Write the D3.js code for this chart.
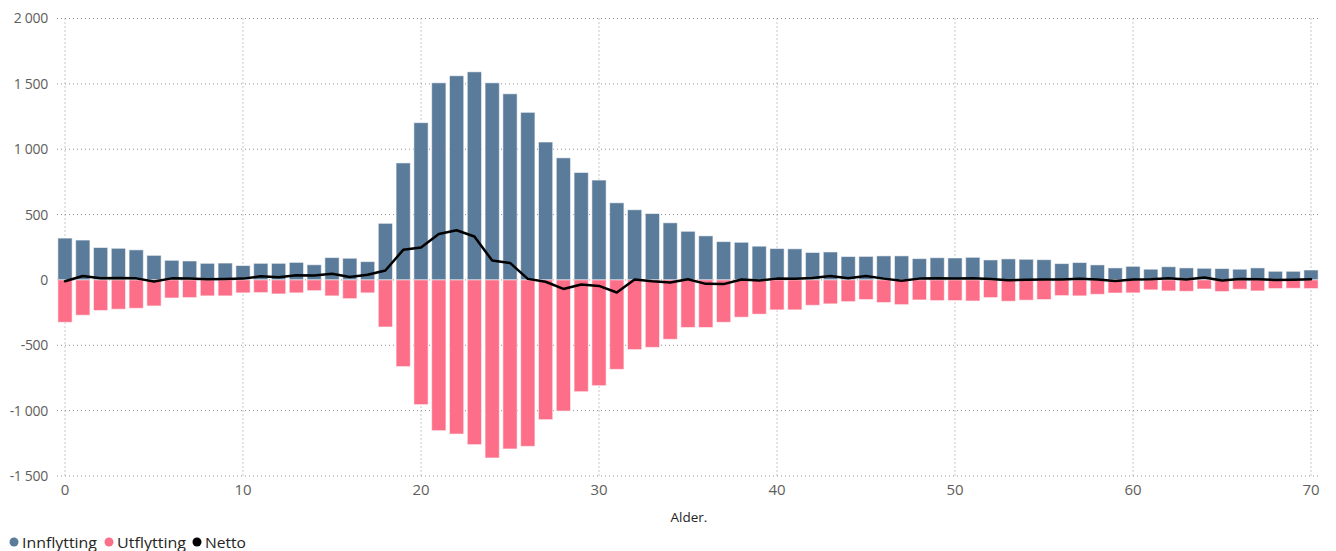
<!DOCTYPE html>
<html>
<head>
<meta charset="utf-8">
<script src="https://cdn.jsdelivr.net/npm/d3@7"></script>
<style>
  html, body { margin: 0; padding: 0; background: #fff; }
  svg { display: block; font-family: "Open Sans", "Noto Sans", sans-serif; }
</style>
</head>
<body>
<svg id="chart" width="1336" height="551"></svg>
<script>
const ages = d3.range(0, 71);
const innflytting = [320, 305, 248, 242, 230, 188, 150, 145, 127, 129, 110, 127, 127, 134, 116, 171, 166, 140, 433, 895,
  1203, 1508, 1562, 1592, 1508, 1424, 1282, 1055, 934, 822, 764, 590, 537, 508, 437, 372, 337, 293, 288, 258,
  240, 238, 210, 214, 179, 180, 184, 184, 163, 170, 168, 173, 153, 161, 158, 155, 125, 133, 115, 92,
  104, 82, 101, 92, 89, 87, 82, 92, 66, 66, 76];
const utflytting = [-324, -270, -234, -224, -217, -199, -138, -135, -122, -122, -99, -97, -107, -99, -82, -122, -143, -99, -360, -663,
  -954, -1153, -1179, -1260, -1362, -1293, -1273, -1069, -1003, -855, -809, -684, -533, -516, -454, -364, -364, -324, -285, -262,
  -229, -229, -194, -183, -166, -150, -173, -189, -153, -158, -158, -161, -135, -163, -155, -150, -120, -122, -110, -100,
  -99, -76, -84, -87, -69, -89, -71, -84, -66, -64, -66];
const netto = [-10, 30, 12, 15, 12, -12, 12, 10, 5, 7, 10, 28, 20, 35, 34, 48, 22, 40, 72, 230,
  248, 352, 380, 332, 148, 130, 8, -14, -69, -35, -46, -96, 4, -10, -20, 5, -30, -32, 3, -5,
  10, 9, 15, 30, 13, 30, 10, -6, 10, 12, 10, 12, 8, -3, 1, 3, 4, 9, 3, -8,
  3, 6, 13, 4, 18, -4, 8, 6, 0, 2, 6];
const yTicks = [-1500, -1000, -500, 0, 500, 1000, 1500, 2000];
const xTicks = [0, 10, 20, 30, 40, 50, 60, 70];
const seriesNames = ["Innflytting", "Utflytting", "Netto"];
const colors = ["#5B7B9A", "#FD6F88", "#000000"];

const svg = d3.select("#chart");
const x = d3.scaleBand().domain(ages).range([56.1, 1319.9]).paddingInner(0.2).paddingOuter(0.1);
const y = d3.scaleLinear().domain([-1500, 2000]).range([476, 18.5]);
const cx = a => x(a) + x.bandwidth() / 2;

const loc = d3.formatLocale({decimal: ",", thousands: "\u00a0", grouping: [3], currency: ["", ""], minus: "-"});
const fmt = loc.format(",d");

// Grid
const grid = svg.append("g");
grid.selectAll("line.h").data(yTicks).join("line")
  .attr("x1", 57).attr("x2", 1320)
  .attr("y1", d => y(d)).attr("y2", d => y(d))
  .attr("stroke", "#8f8f8f").attr("stroke-width", 1).attr("stroke-dasharray", "1,3");
grid.selectAll("line.v").data(xTicks).join("line")
  .attr("x1", d => cx(d)).attr("x2", d => cx(d))
  .attr("y1", y(2000)).attr("y2", y(-1500))
  .attr("stroke", "#8f8f8f").attr("stroke-width", 1).attr("stroke-dasharray", "1,3");

// Y axis labels
const yAxis = d3.axisLeft(y).tickValues(yTicks).tickFormat(fmt).tickSize(0).tickPadding(0);
svg.append("g").attr("transform", "translate(48,0)").call(yAxis)
  .call(g => g.select(".domain").remove())
  .call(g => g.selectAll("text").attr("fill", "#605E5C").attr("font-size", 14)
    .attr("font-family", "'Open Sans', 'Noto Sans', sans-serif").attr("letter-spacing", "-0.3px"));

// X axis labels
const xAxis = d3.axisBottom(x).tickValues(xTicks).tickSize(0).tickPadding(0);
svg.append("g").attr("transform", "translate(0,484)").call(xAxis)
  .call(g => g.select(".domain").remove())
  .call(g => g.selectAll("text").attr("fill", "#605E5C").attr("font-size", 15)
    .attr("font-family", "'Open Sans', 'Noto Sans', sans-serif"));

svg.append("text").attr("x", 689).attr("y", 522).attr("text-anchor", "middle")
  .attr("font-size", 13.5).attr("fill", "#252423").text("Alder.");

// Bars
svg.append("g").selectAll("rect").data(ages).join("rect")
  .attr("x", d => x(d)).attr("width", x.bandwidth())
  .attr("y", d => y(innflytting[d])).attr("height", d => y(0) - y(innflytting[d]))
  .attr("fill", colors[0]).attr("stroke", "rgba(255,255,255,0.55)").attr("stroke-width", 1);
svg.append("g").selectAll("rect").data(ages).join("rect")
  .attr("x", d => x(d)).attr("width", x.bandwidth())
  .attr("y", y(0)).attr("height", d => y(utflytting[d]) - y(0))
  .attr("fill", colors[1]).attr("stroke", "rgba(255,255,255,0.55)").attr("stroke-width", 1);

// Netto line
const line = d3.line().x(d => cx(d)).y(d => y(netto[d]));
svg.append("path").datum(ages).attr("d", line)
  .attr("fill", "none").attr("stroke", colors[2]).attr("stroke-width", 2.5)
  .attr("stroke-linejoin", "round").attr("stroke-linecap", "round");

// Legend
const legendX = [14, 109, 197];
const legendW = [75, 69, 41];
const lg = svg.append("g");
seriesNames.forEach((n, i) => {
  lg.append("circle").attr("cx", legendX[i]).attr("cy", 542).attr("r", 4.5).attr("fill", colors[i]);
  lg.append("text").attr("x", legendX[i] + 8).attr("y", 547.5).attr("font-size", 15)
    .attr("textLength", legendW[i]).attr("lengthAdjust", "spacingAndGlyphs")
    .attr("fill", "#252423").text(n);
});
</script>
</body>
</html>
